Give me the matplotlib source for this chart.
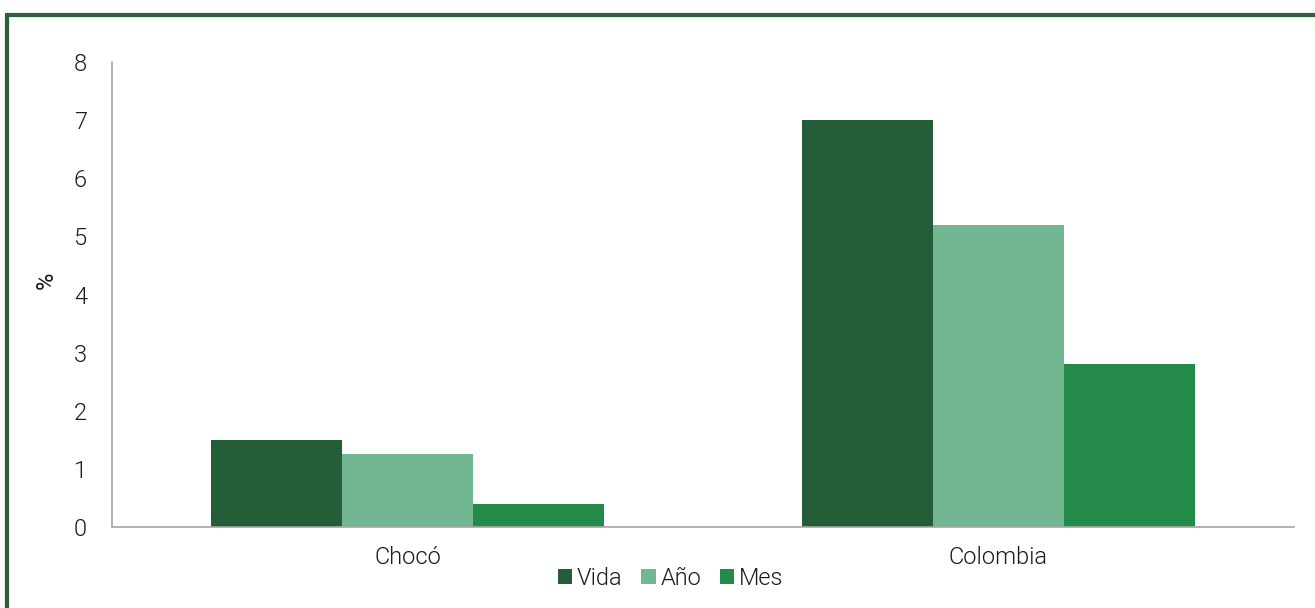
import numpy as np
import matplotlib
matplotlib.use("Agg")
import matplotlib.pyplot as plt
from matplotlib.patches import Rectangle

# data
categories = ["Chocó", "Colombia"]
series = ["Vida", "Año", "Mes"]
vida = [1.5, 7.0]
anio = [1.25, 5.2]
mes = [0.4, 2.8]
yticks = [0, 1, 2, 3, 4, 5, 6, 7, 8]

colors = ["#245E38", "#73B792", "#248A4A"]
frame_c = "#2E5E37"
axis_c = "#A6A6A6"
text_c = "#1A1A1A"

plt.rcParams.update({"font.family": ["Roboto", "DejaVu Sans"],
                     "font.weight": 300})

fig = plt.figure(figsize=(13.15, 6.08), dpi=100)
ax = fig.add_axes([0.0852, 0.1332, 0.8988, 0.7648])

x = np.arange(len(categories))
w = 0.2217
for i, (name, vals) in enumerate(zip(series, [vida, anio, mes])):
    ax.bar(x + (i - 1) * w, vals, w, color=colors[i], label=name, zorder=2)

ax.set_xlim(-0.5, 1.5)
ax.set_ylim(0, 8)
ax.set_yticks(yticks)
ax.set_xticks(x)
ax.set_xticklabels(categories)
ax.tick_params(length=0, labelsize=17, colors=text_c)
ax.tick_params(axis="y", pad=18)
ax.tick_params(axis="x", pad=14)
for s in ["top", "right"]:
    ax.spines[s].set_visible(False)
for s in ["left", "bottom"]:
    ax.spines[s].set_color(axis_c)
    ax.spines[s].set_linewidth(1.2)
ax.set_ylabel("%", fontsize=17, color=text_c)
ax.yaxis.set_label_coords(-0.046, 0.531)

leg = fig.legend(loc="center", bbox_to_anchor=(0.51, 0.049), ncol=3, frameon=False,
                 fontsize=17, handlelength=0.6, handleheight=0.6,
                 handletextpad=0.2, columnspacing=0.8)
for t in leg.get_texts():
    t.set_color(text_c)

# outer green frame (runs off the right and bottom edges)
fig.patches.append(Rectangle((7 / 1315, -0.05), 1.1, 1 - 15 / 608 + 0.05,
                             transform=fig.transFigure, fill=False,
                             edgecolor=frame_c, linewidth=3.0))

fig.savefig("out.png", dpi=100)
